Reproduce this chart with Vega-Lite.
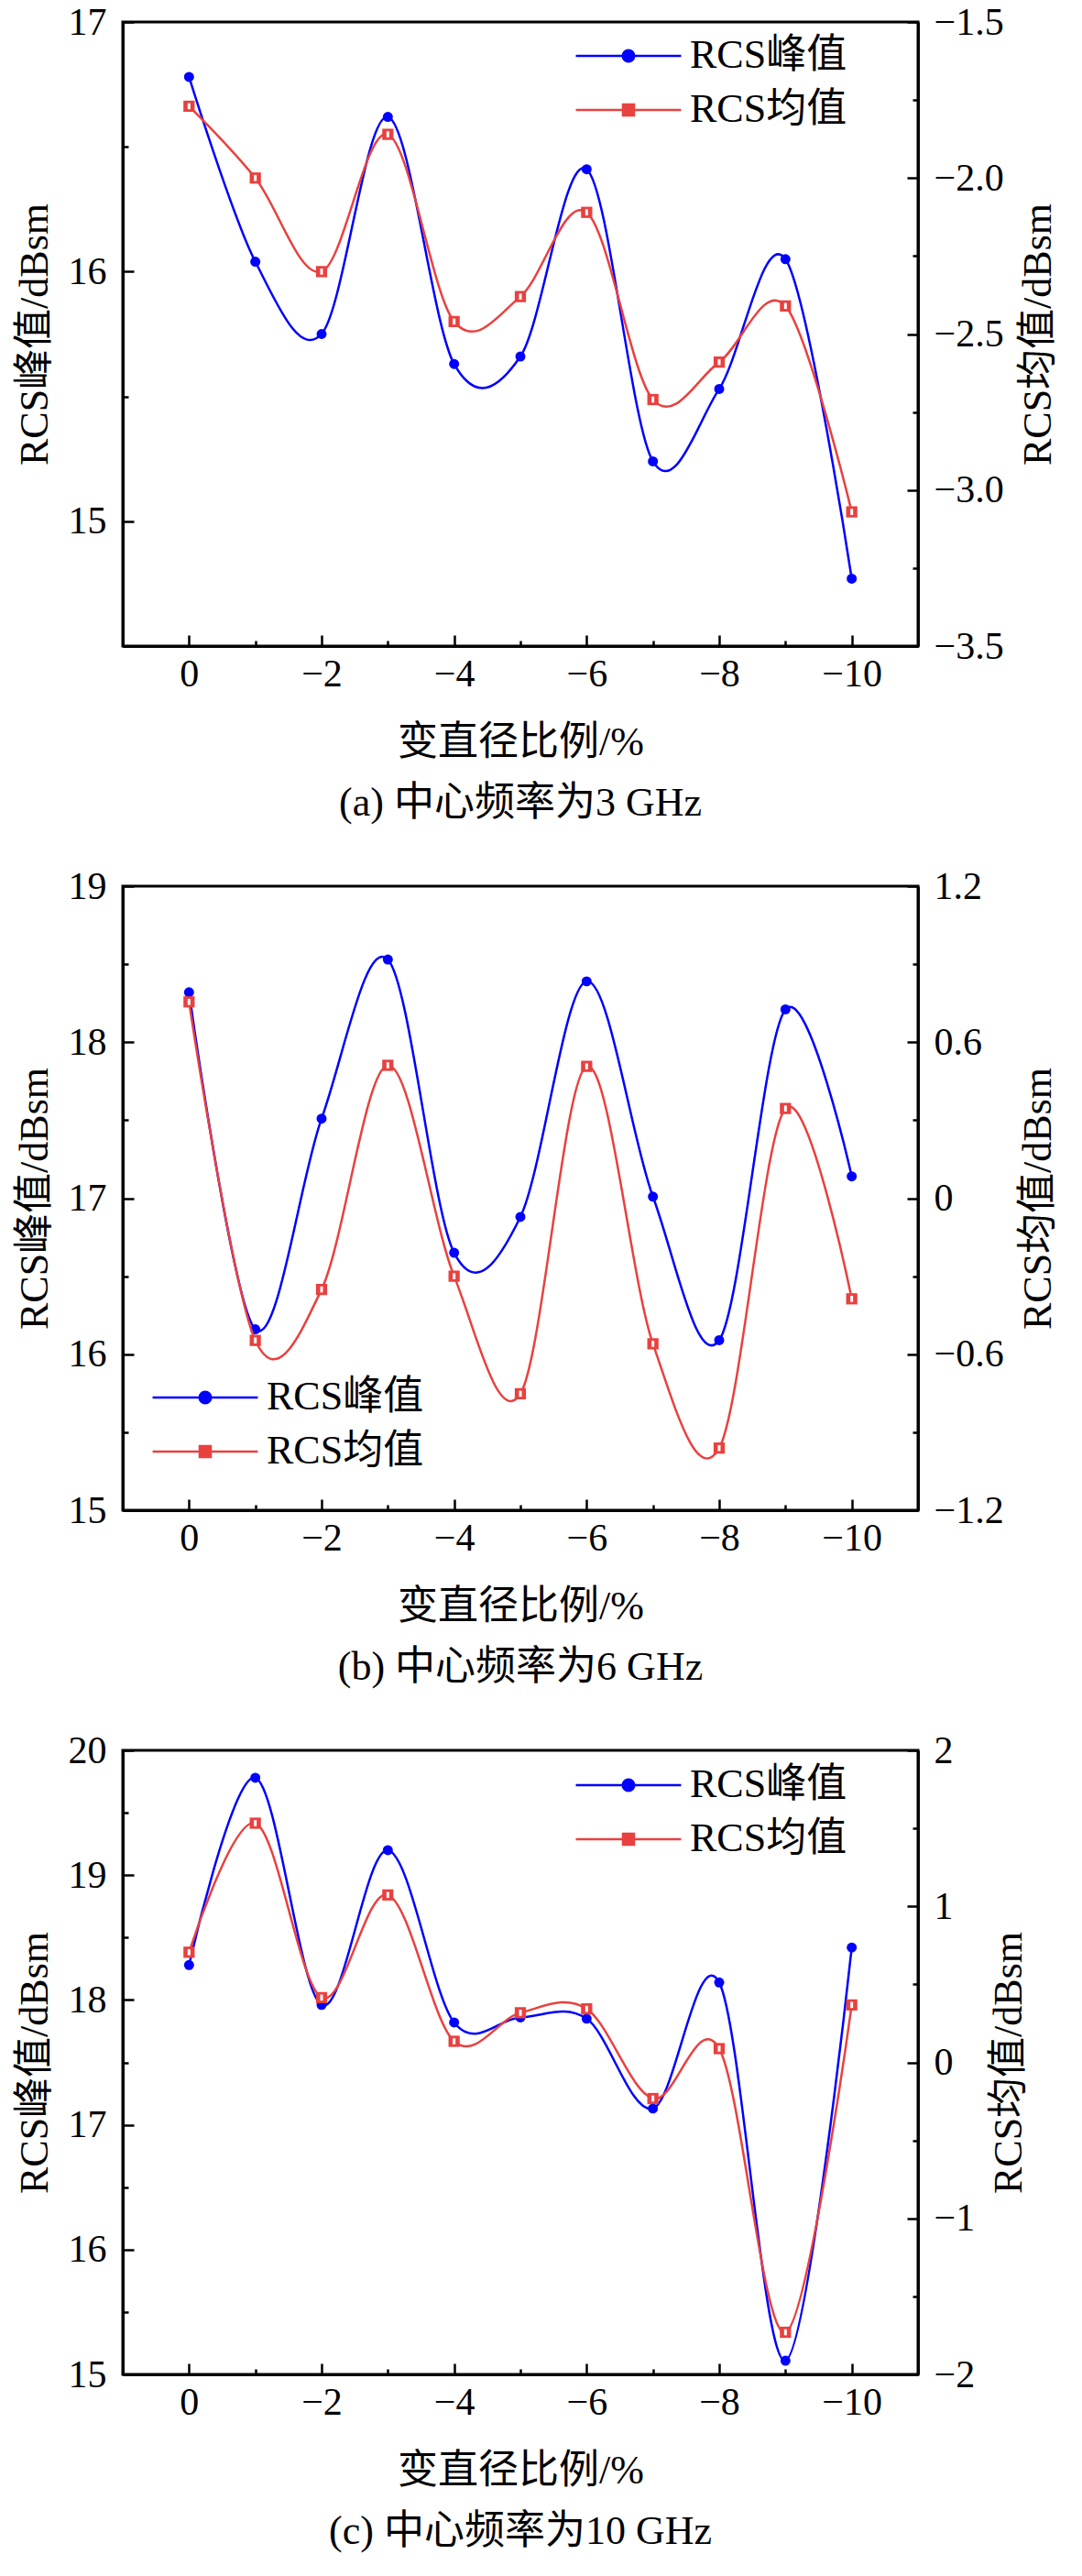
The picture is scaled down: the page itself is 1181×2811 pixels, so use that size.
{
  "$schema": "https://vega.github.io/schema/vega-lite/v6.json",
  "background": "white",
  "padding": {"left": 14, "top": 1, "right": 5, "bottom": 5},
  "spacing": 43,
  "datasets": {
    "a": [
      {"x": 0, "peak": 16.78, "mean": -1.77},
      {"x": -1, "peak": 16.04, "mean": -2.0},
      {"x": -2, "peak": 15.75, "mean": -2.3},
      {"x": -3, "peak": 16.62, "mean": -1.86},
      {"x": -4, "peak": 15.63, "mean": -2.46},
      {"x": -5, "peak": 15.66, "mean": -2.38},
      {"x": -6, "peak": 16.41, "mean": -2.11},
      {"x": -7, "peak": 15.24, "mean": -2.71},
      {"x": -8, "peak": 15.53, "mean": -2.59},
      {"x": -9, "peak": 16.05, "mean": -2.41},
      {"x": -10, "peak": 14.77, "mean": -3.07}
    ],
    "b": [
      {"x": 0, "peak": 18.32, "mean": 0.755},
      {"x": -1, "peak": 16.16, "mean": -0.547},
      {"x": -2, "peak": 17.51, "mean": -0.351},
      {"x": -3, "peak": 18.53, "mean": 0.511},
      {"x": -4, "peak": 16.65, "mean": -0.3},
      {"x": -5, "peak": 16.88, "mean": -0.752},
      {"x": -6, "peak": 18.39, "mean": 0.507},
      {"x": -7, "peak": 17.01, "mean": -0.56},
      {"x": -8, "peak": 16.09, "mean": -0.961},
      {"x": -9, "peak": 18.21, "mean": 0.345},
      {"x": -10, "peak": 17.14, "mean": -0.387}
    ],
    "c": [
      {"x": 0, "peak": 18.28, "mean": 0.706},
      {"x": -1, "peak": 19.78, "mean": 1.533},
      {"x": -2, "peak": 17.96, "mean": 0.415},
      {"x": -3, "peak": 19.2, "mean": 1.073},
      {"x": -4, "peak": 17.82, "mean": 0.135},
      {"x": -5, "peak": 17.86, "mean": 0.318},
      {"x": -6, "peak": 17.85, "mean": 0.343},
      {"x": -7, "peak": 17.13, "mean": -0.232},
      {"x": -8, "peak": 18.14, "mean": 0.088},
      {"x": -9, "peak": 15.11, "mean": -1.73},
      {"x": -10, "peak": 18.42, "mean": 0.368}
    ]
  },
  "vconcat": [
    {
      "width": 868,
      "height": 681,
      "data": {"name": "a"},
      "title": {"text": "(a) 中心频率为3 GHz", "orient": "bottom", "frame": "group", "anchor": "middle", "offset": 23},
      "encoding": {
        "x": {
          "field": "x", "type": "quantitative",
          "scale": {"domain": [-11, 1], "reverse": true, "nice": false, "zero": false},
          "axis": {
            "title": "变直径比例/%",
            "values": [0, -1, -2, -3, -4, -5, -6, -7, -8, -9, -10],
            "labelExpr": "datum.value % 2 === 0 ? format(datum.value, 'd') : ''",
            "tickSize": {"condition": {"test": "datum.value % 2 === 0", "value": -12}, "value": -6},
            "labelPadding": 22, "titlePadding": 26, "labelOverlap": false, "labelFlush": false
          }
        }
      },
      "layer": [
        {
          "layer": [
            {
              "mark": {"type": "line", "interpolate": "cardinal", "strokeWidth": 2.5, "color": "#0000ff"},
              "encoding": {
                "y": {
                  "field": "peak", "type": "quantitative",
                  "scale": {"domain": [14.5, 17], "nice": false, "zero": false},
                  "axis": {
                    "title": "RCS峰值/dBsm",
                    "values": [14.5, 15, 15.5, 16, 16.5, 17],
                    "labelExpr": "abs(datum.value - round(datum.value)) < 0.01 ? format(datum.value, 'd') : ''",
                    "tickSize": {"condition": {"test": "abs(datum.value - round(datum.value)) < 0.01", "value": -12}, "value": -6},
                    "labelPadding": 30, "titlePadding": 14, "labelOverlap": false, "labelFlush": false
                  }
                }
              }
            },
            {
              "mark": {"type": "point", "shape": "circle", "filled": true, "size": 120, "color": "#0000ff", "opacity": 1},
              "encoding": {"y": {"field": "peak", "type": "quantitative"}}
            }
          ]
        },
        {
          "layer": [
            {
              "mark": {"type": "line", "interpolate": "cardinal", "strokeWidth": 2.5, "color": "#e8413f"},
              "encoding": {
                "y": {
                  "field": "mean", "type": "quantitative",
                  "scale": {"domain": [-3.5, -1.5], "nice": false, "zero": false},
                  "axis": {
                    "orient": "right", "title": "RCS均值/dBsm", "titleAngle": 270, "titleBaseline": "top",
                    "values": [-3.5, -3.25, -3, -2.75, -2.5, -2.25, -2, -1.75, -1.5],
                    "labelExpr": "abs(datum.value * 2 - round(datum.value * 2)) < 0.01 ? format(datum.value, '.1f') : ''",
                    "tickSize": {"condition": {"test": "abs(datum.value * 2 - round(datum.value * 2)) < 0.01", "value": -12}, "value": -6},
                    "labelPadding": 29, "titlePadding": 16, "labelOverlap": false, "labelFlush": false
                  }
                }
              }
            },
            {
              "mark": {"type": "point", "shape": "square", "filled": true, "size": 150, "color": "#e8413f", "opacity": 1},
              "encoding": {"y": {"field": "mean", "type": "quantitative"}}
            },
            {
              "mark": {"type": "point", "shape": "M-0.25,-0.55H0.25V0.55H-0.25Z", "filled": true, "size": 144, "color": "white", "opacity": 1},
              "encoding": {"y": {"field": "mean", "type": "quantitative"}}
            }
          ]
        },
        {
          "transform": [{"filter": "false"}],
          "mark": {"type": "point", "filled": false, "strokeWidth": 2.5, "opacity": 1},
          "encoding": {
            "color": {
              "datum": "RCS峰值",
              "scale": {"domain": ["RCS峰值", "RCS均值"], "range": ["#0000ff", "#e8413f"]},
              "legend": {"orient": "none", "legendX": 530, "legendY": 15, "title": null, "symbolSize": 900, "symbolStrokeWidth": 2.5, "symbolOpacity": 1, "labelOffset": 45, "labelLimit": 0, "rowPadding": 15, "padding": 0}
            },
            "fill": {
              "datum": "RCS峰值",
              "scale": {"domain": ["RCS峰值", "RCS均值"], "range": ["#0000ff", "#e8413f"]},
              "legend": {"orient": "none", "legendX": 530, "legendY": 15, "title": null, "symbolSize": 900, "symbolStrokeWidth": 2.5, "symbolOpacity": 1, "labelOffset": 45, "labelLimit": 0, "rowPadding": 15, "padding": 0}
            },
            "shape": {
              "datum": "RCS峰值",
              "scale": {"domain": ["RCS峰值", "RCS均值"], "range": ["M-3.83,0H3.83M0.42,0A0.42,0.42,0,1,1,-0.42,0A0.42,0.42,0,1,1,0.42,0", "M-3.83,0H3.83M-0.4,-0.4H0.4V0.4H-0.4Z"]},
              "legend": {"orient": "none", "legendX": 530, "legendY": 15, "title": null, "symbolSize": 900, "symbolStrokeWidth": 2.5, "symbolOpacity": 1, "labelOffset": 45, "labelLimit": 0, "rowPadding": 15, "padding": 0}
            }
          }
        }
      ],
      "resolve": {"scale": {"y": "independent"}}
    },
    {
      "width": 868,
      "height": 681,
      "data": {"name": "b"},
      "title": {"text": "(b) 中心频率为6 GHz", "orient": "bottom", "frame": "group", "anchor": "middle", "offset": 23},
      "encoding": {
        "x": {
          "field": "x", "type": "quantitative",
          "scale": {"domain": [-11, 1], "reverse": true, "nice": false, "zero": false},
          "axis": {
            "title": "变直径比例/%",
            "values": [0, -1, -2, -3, -4, -5, -6, -7, -8, -9, -10],
            "labelExpr": "datum.value % 2 === 0 ? format(datum.value, 'd') : ''",
            "tickSize": {"condition": {"test": "datum.value % 2 === 0", "value": -12}, "value": -6},
            "labelPadding": 22, "titlePadding": 26, "labelOverlap": false, "labelFlush": false
          }
        }
      },
      "layer": [
        {
          "layer": [
            {
              "mark": {"type": "line", "interpolate": "cardinal", "strokeWidth": 2.5, "color": "#0000ff"},
              "encoding": {
                "y": {
                  "field": "peak", "type": "quantitative",
                  "scale": {"domain": [15, 19], "nice": false, "zero": false},
                  "axis": {
                    "title": "RCS峰值/dBsm",
                    "values": [15, 15.5, 16, 16.5, 17, 17.5, 18, 18.5, 19],
                    "labelExpr": "abs(datum.value - round(datum.value)) < 0.01 ? format(datum.value, 'd') : ''",
                    "tickSize": {"condition": {"test": "abs(datum.value - round(datum.value)) < 0.01", "value": -12}, "value": -6},
                    "labelPadding": 30, "titlePadding": 14, "labelOverlap": false, "labelFlush": false
                  }
                }
              }
            },
            {
              "mark": {"type": "point", "shape": "circle", "filled": true, "size": 120, "color": "#0000ff", "opacity": 1},
              "encoding": {"y": {"field": "peak", "type": "quantitative"}}
            }
          ]
        },
        {
          "layer": [
            {
              "mark": {"type": "line", "interpolate": "cardinal", "strokeWidth": 2.5, "color": "#e8413f"},
              "encoding": {
                "y": {
                  "field": "mean", "type": "quantitative",
                  "scale": {"domain": [-1.2, 1.2], "nice": false, "zero": false},
                  "axis": {
                    "orient": "right", "title": "RCS均值/dBsm", "titleAngle": 270, "titleBaseline": "top",
                    "values": [-1.2, -0.9, -0.6, -0.3, 0, 0.3, 0.6, 0.9, 1.2],
                    "labelExpr": "abs(datum.value / 0.6 - round(datum.value / 0.6)) < 0.01 ? (abs(datum.value) < 0.01 ? '0' : format(datum.value, '.1f')) : ''",
                    "tickSize": {"condition": {"test": "abs(datum.value / 0.6 - round(datum.value / 0.6)) < 0.01", "value": -12}, "value": -6},
                    "labelPadding": 29, "titlePadding": 16, "labelOverlap": false, "labelFlush": false
                  }
                }
              }
            },
            {
              "mark": {"type": "point", "shape": "square", "filled": true, "size": 150, "color": "#e8413f", "opacity": 1},
              "encoding": {"y": {"field": "mean", "type": "quantitative"}}
            },
            {
              "mark": {"type": "point", "shape": "M-0.25,-0.55H0.25V0.55H-0.25Z", "filled": true, "size": 144, "color": "white", "opacity": 1},
              "encoding": {"y": {"field": "mean", "type": "quantitative"}}
            }
          ]
        },
        {
          "transform": [{"filter": "false"}],
          "mark": {"type": "point", "filled": false, "strokeWidth": 2.5, "opacity": 1},
          "encoding": {
            "color": {
              "datum": "RCS峰值",
              "scale": {"domain": ["RCS峰值", "RCS均值"], "range": ["#0000ff", "#e8413f"]},
              "legend": {"orient": "none", "legendX": 68, "legendY": 536, "title": null, "symbolSize": 900, "symbolStrokeWidth": 2.5, "symbolOpacity": 1, "labelOffset": 45, "labelLimit": 0, "rowPadding": 15, "padding": 0}
            },
            "fill": {
              "datum": "RCS峰值",
              "scale": {"domain": ["RCS峰值", "RCS均值"], "range": ["#0000ff", "#e8413f"]},
              "legend": {"orient": "none", "legendX": 68, "legendY": 536, "title": null, "symbolSize": 900, "symbolStrokeWidth": 2.5, "symbolOpacity": 1, "labelOffset": 45, "labelLimit": 0, "rowPadding": 15, "padding": 0}
            },
            "shape": {
              "datum": "RCS峰值",
              "scale": {"domain": ["RCS峰值", "RCS均值"], "range": ["M-3.83,0H3.83M0.42,0A0.42,0.42,0,1,1,-0.42,0A0.42,0.42,0,1,1,0.42,0", "M-3.83,0H3.83M-0.4,-0.4H0.4V0.4H-0.4Z"]},
              "legend": {"orient": "none", "legendX": 68, "legendY": 536, "title": null, "symbolSize": 900, "symbolStrokeWidth": 2.5, "symbolOpacity": 1, "labelOffset": 45, "labelLimit": 0, "rowPadding": 15, "padding": 0}
            }
          }
        }
      ],
      "resolve": {"scale": {"y": "independent"}}
    },
    {
      "width": 868,
      "height": 681,
      "data": {"name": "c"},
      "title": {"text": "(c) 中心频率为10 GHz", "orient": "bottom", "frame": "group", "anchor": "middle", "offset": 23},
      "encoding": {
        "x": {
          "field": "x", "type": "quantitative",
          "scale": {"domain": [-11, 1], "reverse": true, "nice": false, "zero": false},
          "axis": {
            "title": "变直径比例/%",
            "values": [0, -1, -2, -3, -4, -5, -6, -7, -8, -9, -10],
            "labelExpr": "datum.value % 2 === 0 ? format(datum.value, 'd') : ''",
            "tickSize": {"condition": {"test": "datum.value % 2 === 0", "value": -12}, "value": -6},
            "labelPadding": 22, "titlePadding": 26, "labelOverlap": false, "labelFlush": false
          }
        }
      },
      "layer": [
        {
          "layer": [
            {
              "mark": {"type": "line", "interpolate": "cardinal", "strokeWidth": 2.5, "color": "#0000ff"},
              "encoding": {
                "y": {
                  "field": "peak", "type": "quantitative",
                  "scale": {"domain": [15, 20], "nice": false, "zero": false},
                  "axis": {
                    "title": "RCS峰值/dBsm",
                    "values": [15, 15.5, 16, 16.5, 17, 17.5, 18, 18.5, 19, 19.5, 20],
                    "labelExpr": "abs(datum.value - round(datum.value)) < 0.01 ? format(datum.value, 'd') : ''",
                    "tickSize": {"condition": {"test": "abs(datum.value - round(datum.value)) < 0.01", "value": -12}, "value": -6},
                    "labelPadding": 30, "titlePadding": 14, "labelOverlap": false, "labelFlush": false
                  }
                }
              }
            },
            {
              "mark": {"type": "point", "shape": "circle", "filled": true, "size": 120, "color": "#0000ff", "opacity": 1},
              "encoding": {"y": {"field": "peak", "type": "quantitative"}}
            }
          ]
        },
        {
          "layer": [
            {
              "mark": {"type": "line", "interpolate": "cardinal", "strokeWidth": 2.5, "color": "#e8413f"},
              "encoding": {
                "y": {
                  "field": "mean", "type": "quantitative",
                  "scale": {"domain": [-2, 2], "nice": false, "zero": false},
                  "axis": {
                    "orient": "right", "title": "RCS均值/dBsm", "titleAngle": 270, "titleBaseline": "top",
                    "values": [-2, -1.5, -1, -0.5, 0, 0.5, 1, 1.5, 2],
                    "labelExpr": "abs(datum.value - round(datum.value)) < 0.01 ? format(datum.value, 'd') : ''",
                    "tickSize": {"condition": {"test": "abs(datum.value - round(datum.value)) < 0.01", "value": -12}, "value": -6},
                    "labelPadding": 29, "titlePadding": 16, "labelOverlap": false, "labelFlush": false
                  }
                }
              }
            },
            {
              "mark": {"type": "point", "shape": "square", "filled": true, "size": 150, "color": "#e8413f", "opacity": 1},
              "encoding": {"y": {"field": "mean", "type": "quantitative"}}
            },
            {
              "mark": {"type": "point", "shape": "M-0.25,-0.55H0.25V0.55H-0.25Z", "filled": true, "size": 144, "color": "white", "opacity": 1},
              "encoding": {"y": {"field": "mean", "type": "quantitative"}}
            }
          ]
        },
        {
          "transform": [{"filter": "false"}],
          "mark": {"type": "point", "filled": false, "strokeWidth": 2.5, "opacity": 1},
          "encoding": {
            "color": {
              "datum": "RCS峰值",
              "scale": {"domain": ["RCS峰值", "RCS均值"], "range": ["#0000ff", "#e8413f"]},
              "legend": {"orient": "none", "legendX": 530, "legendY": 16, "title": null, "symbolSize": 900, "symbolStrokeWidth": 2.5, "symbolOpacity": 1, "labelOffset": 45, "labelLimit": 0, "rowPadding": 15, "padding": 0}
            },
            "fill": {
              "datum": "RCS峰值",
              "scale": {"domain": ["RCS峰值", "RCS均值"], "range": ["#0000ff", "#e8413f"]},
              "legend": {"orient": "none", "legendX": 530, "legendY": 16, "title": null, "symbolSize": 900, "symbolStrokeWidth": 2.5, "symbolOpacity": 1, "labelOffset": 45, "labelLimit": 0, "rowPadding": 15, "padding": 0}
            },
            "shape": {
              "datum": "RCS峰值",
              "scale": {"domain": ["RCS峰值", "RCS均值"], "range": ["M-3.83,0H3.83M0.42,0A0.42,0.42,0,1,1,-0.42,0A0.42,0.42,0,1,1,0.42,0", "M-3.83,0H3.83M-0.4,-0.4H0.4V0.4H-0.4Z"]},
              "legend": {"orient": "none", "legendX": 530, "legendY": 16, "title": null, "symbolSize": 900, "symbolStrokeWidth": 2.5, "symbolOpacity": 1, "labelOffset": 45, "labelLimit": 0, "rowPadding": 15, "padding": 0}
            }
          }
        }
      ],
      "resolve": {"scale": {"y": "independent"}}
    }
  ],
  "resolve": {
    "scale": {"color": "independent", "fill": "independent", "shape": "independent", "x": "independent", "y": "independent"},
    "legend": {"color": "independent", "fill": "independent", "shape": "independent"}
  },
  "config": {
    "view": {"stroke": "black", "strokeWidth": 3},
    "font": "Liberation Serif, Noto Sans CJK SC",
    "axis": {
      "grid": false,
      "domainColor": "black", "domainWidth": 3,
      "tickColor": "black", "tickWidth": 2.5,
      "labelFont": "Liberation Serif", "labelFontSize": 42, "labelColor": "black",
      "titleFont": "Liberation Serif, Noto Sans CJK SC", "titleFontSize": 44, "titleFontWeight": "normal", "titleColor": "black"
    },
    "legend": {
      "labelFont": "Liberation Serif, Noto Sans CJK SC", "labelFontSize": 44, "labelColor": "black"
    },
    "title": {
      "font": "Liberation Serif, Noto Sans CJK SC", "fontSize": 44, "fontWeight": "normal", "color": "black"
    }
  }
}
